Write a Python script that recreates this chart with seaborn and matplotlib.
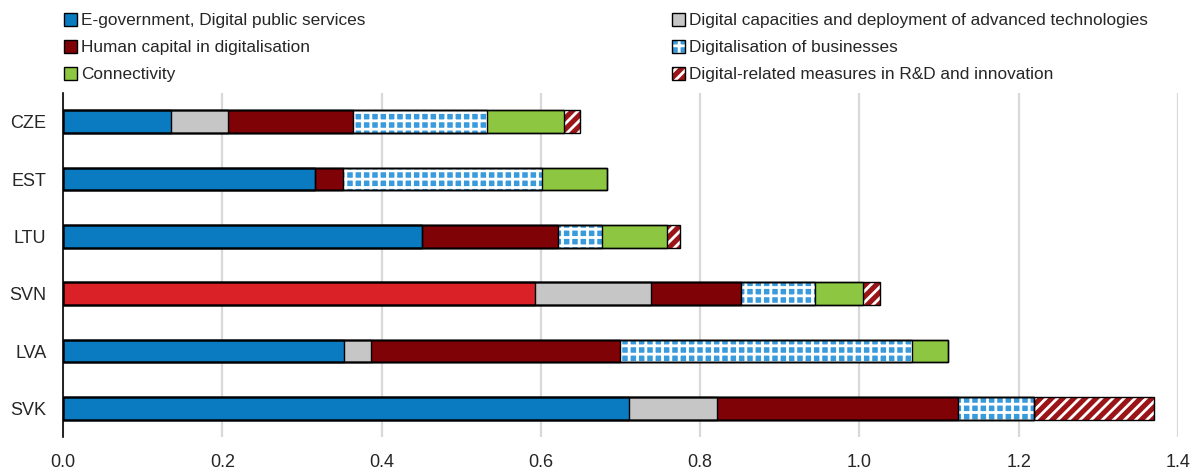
import matplotlib
matplotlib.use("Agg")
import matplotlib.pyplot as plt
from matplotlib.patches import Patch, Rectangle
import numpy as np
import pandas as pd
import seaborn as sns

# values
countries = ["CZE", "EST", "LTU", "SVN", "LVA", "SVK"]
egov = [0.136, 0.317, 0.451, 0.593, 0.353, 0.711]
capacities = [0.071, 0.0, 0.0, 0.145, 0.034, 0.110]
human = [0.157, 0.034, 0.170, 0.113, 0.313, 0.303]
business = [0.168, 0.250, 0.056, 0.093, 0.366, 0.095]
connectivity = [0.097, 0.082, 0.081, 0.061, 0.045, 0.0]
rnd = [0.020, 0.0, 0.017, 0.021, 0.0, 0.151]

labels = {
    "egov": "E-government, Digital public services",
    "capacities": "Digital capacities and deployment of advanced technologies",
    "human": "Human capital in digitalisation",
    "business": "Digitalisation of businesses",
    "connectivity": "Connectivity",
    "rnd": "Digital-related measures in R&D and innovation",
}

# stacking order: name, values, colour, hatch
series = [
    ("egov", egov, "#0B7BC1", None),
    ("capacities", capacities, "#C6C6C6", None),
    ("human", human, "#7F0306", None),
    ("business", business, "#3A9BDC", "++"),
    ("connectivity", connectivity, "#8DC641", None),
    ("rnd", rnd, "#9A1418", "///"),
]
highlight = "#DA2128"

sns.set_style("white")
plt.rcParams["font.family"] = ["Liberation Sans Narrow", "Liberation Sans", "DejaVu Sans"]
plt.rcParams["hatch.linewidth"] = 2.0

# cumulative sums for stacking
df = pd.DataFrame({"country": countries})
running = np.zeros(len(countries))
for name, vals, color, hatch in series:
    running = running + np.array(vals)
    df[name] = running

fig = plt.figure(figsize=(11.97, 4.74), dpi=100)
ax = fig.add_axes([63 / 1197, 37 / 474, 1115 / 1197, 344 / 474])

for name, vals, color, hatch in reversed(series):
    if name == "egov":
        palette = {c: (highlight if c == "SVN" else color) for c in countries}
        sns.barplot(data=df, x=name, y="country", hue="country", palette=palette,
                    legend=False, orient="h", width=0.4, errorbar=None, ax=ax,
                    edgecolor="white", linewidth=0, saturation=1)
    else:
        sns.barplot(data=df, x=name, y="country", color=color, orient="h",
                    width=0.4, errorbar=None, ax=ax, edgecolor="white",
                    linewidth=0, hatch=hatch, saturation=1)

# black outlines on every segment
for bar in list(ax.patches):
    ax.add_patch(Rectangle(bar.get_xy(), bar.get_width(), bar.get_height(),
                           fill=False, edgecolor="black", linewidth=1, zorder=3))

ax.set_xlim(0, 1.4)
ax.set_ylim(5.5, -0.5)
ax.set_xticks(np.arange(0, 1.41, 0.2))
ax.set_xticklabels([f"{t:.1f}" for t in np.arange(0, 1.41, 0.2)])
ax.set_yticks(np.arange(-0.5, 6, 1), minor=True)
ax.set_xlabel("")
ax.set_ylabel("")
ax.xaxis.grid(True, color="#D9D9D9", linewidth=1.6)
ax.set_axisbelow(True)
for side in ["top", "right", "bottom"]:
    ax.spines[side].set_visible(False)
ax.spines["left"].set_color("black")
ax.spines["left"].set_linewidth(1.2)
ax.tick_params(axis="x", length=0, pad=12, labelsize=13)
ax.tick_params(axis="y", which="major", length=0, pad=12, labelsize=13)
ax.tick_params(axis="y", which="minor", length=4, width=1.2, direction="in", color="black")


def legend_handle(color, hatch):
    if hatch:
        return (Patch(facecolor=color, hatch=hatch, edgecolor="white", linewidth=0),
                Patch(facecolor="none", edgecolor="black", linewidth=1))
    return Patch(facecolor=color, edgecolor="black", linewidth=1)


colors = {name: (color, hatch) for name, vals, color, hatch in series}
left_keys = ["egov", "human", "connectivity"]
right_keys = ["capacities", "business", "rnd"]
for keys, x in [(left_keys, 64), (right_keys, 672)]:
    fig.legend([legend_handle(*colors[k]) for k in keys], [labels[k] for k in keys],
               loc="upper left", bbox_to_anchor=(x / 1197, 1 - 13 / 474), frameon=False,
               handlelength=0.75, handleheight=0.75, handletextpad=0.25,
               labelspacing=0.68, borderaxespad=0, borderpad=0, fontsize=12.4)

fig.savefig("out.png", dpi=100)
